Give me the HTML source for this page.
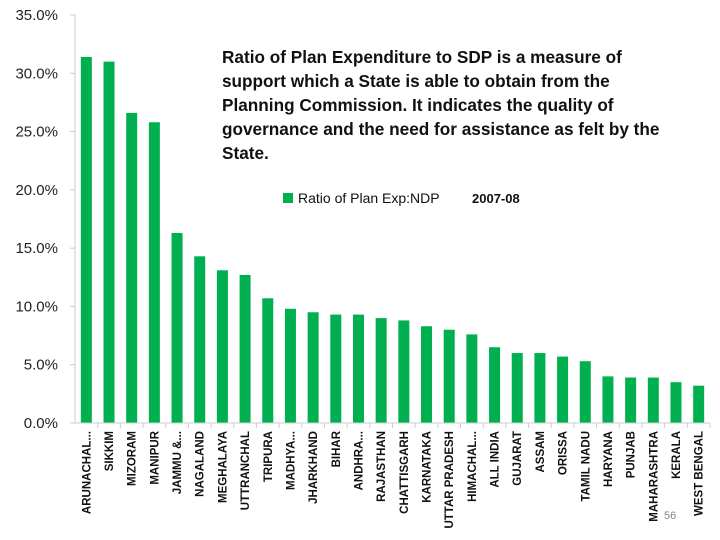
<!DOCTYPE html>
<html><head><meta charset="utf-8"><style>
body{margin:0;background:#fff;font-family:"Liberation Sans",sans-serif}
svg{display:block}
</style></head><body>
<svg id="chart" width="720" height="540">
<g id="yaxis"></g>
<g id="bars"></g>
<g id="xaxis"></g>
<g font-weight="bold" font-size="17.2" fill="#111">
<text x="222" y="63">Ratio of Plan Expenditure to SDP is a measure of</text>
<text x="222" y="87">support which a State is able to obtain from the</text>
<text x="222" y="111">Planning Commission. It indicates the quality of</text>
<text x="222" y="135">governance and the need for assistance as felt by the</text>
<text x="222" y="159">State.</text>
</g>
<g>
<rect x="283" y="193" width="10" height="10" fill="#00b050"/>
<text x="298" y="203" font-size="14" fill="#111">Ratio of Plan Exp:NDP</text>
<text x="472" y="203" font-size="13" font-weight="bold" fill="#111">2007-08</text>
</g>
<text x="664" y="519" font-size="11" fill="#888">56</text>
</svg>
<script>
const categories=["ARUNACHAL...","SIKKIM","MIZORAM","MANIPUR","JAMMU &...","NAGALAND","MEGHALAYA","UTTRANCHAL","TRIPURA","MADHYA...","JHARKHAND","BIHAR","ANDHRA...","RAJASTHAN","CHATTISGARH","KARNATAKA","UTTAR PRADESH","HIMACHAL...","ALL INDIA","GUJARAT","ASSAM","ORISSA","TAMIL NADU","HARYANA","PUNJAB","MAHARASHTRA","KERALA","WEST BENGAL"];
const values=[31.4,31.0,26.6,25.8,16.3,14.3,13.1,12.7,10.7,9.8,9.5,9.3,9.3,9.0,8.8,8.3,8.0,7.6,6.5,6.0,6.0,5.7,5.3,4.0,3.9,3.9,3.5,3.2];
const yTicks=[0,5,10,15,20,25,30,35];
const tickLabels=["0.0%","5.0%","10.0%","15.0%","20.0%","25.0%","30.0%","35.0%"];
const NS="http://www.w3.org/2000/svg";
const x0=75,x1=710,y0=423,yTop=15,yMax=35;
const bw=(x1-x0)/categories.length;
const ys=v=>y0-(v/yMax)*(y0-yTop);
const xs=i=>x0+bw*(i+0.5);
function mk(t,a,p){const e=document.createElementNS(NS,t);for(const k in a)e.setAttribute(k,a[k]);p.appendChild(e);return e;}
const ya=document.getElementById('yaxis'),ba=document.getElementById('bars'),xa=document.getElementById('xaxis');
let ax=mk('line',{x1:x0,y1:yTop,x2:x0,y2:y0,stroke:'#ccc'},ya);


yTicks.forEach((t,i)=>{
 const tk=mk('line',{x1:x0-5,x2:x0,y1:ys(t),y2:ys(t),stroke:'#ccc'},ya);
 
 
 const lb=mk('text',{x:58,y:ys(t)+5,'text-anchor':'end','font-size':15,fill:'#222'},ya);
 lb.textContent=tickLabels[i];
 
 
});
let xl=mk('line',{x1:x0-5,y1:y0,x2:x1,y2:y0,stroke:'#ccc'},xa);


categories.forEach((c,i)=>{
 const r=mk('rect',{x:xs(i)-5.5,y:ys(values[i]),width:11,height:y0-ys(values[i]),fill:'#00b050'},ba);
 
 
 const tk=mk('line',{x1:x0+bw*(i+1),x2:x0+bw*(i+1),y1:y0,y2:y0+5,stroke:'#ccc'},xa);
 
 
 const lb=mk('text',{x:0,y:0,'text-anchor':'end','font-size':11.5,'font-weight':'bold',fill:'#111',transform:`translate(${xs(i)+4},${y0+8}) rotate(-90)`},xa);
 lb.textContent=c;
 
 
});
</script>
</body></html>
